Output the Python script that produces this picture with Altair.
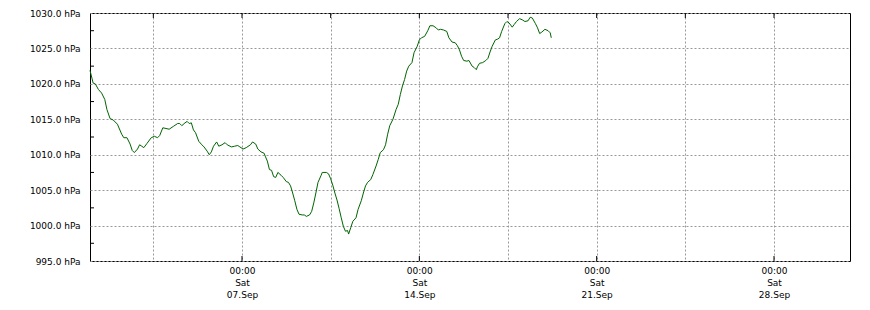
import altair as alt
import pandas as pd

# hours since 2024-09-01 00:00 and air pressure (hPa)
hours = [0, 3, 5, 8, 11, 14, 16, 19, 22, 26, 30, 32, 35, 38, 40, 42, 45, 47, 49, 51,
         54, 58, 61, 64, 66, 69, 72, 75, 79, 83, 85, 87, 90, 92, 94, 96, 98, 100, 103, 106,
         108, 111, 113, 115, 117, 120, 122, 125, 128, 130, 134, 137, 140, 142, 145, 148, 152, 154, 157, 159,
         162, 165, 166, 168, 170, 172, 174, 176, 178, 181, 183, 186, 188, 190, 192, 194, 196, 198, 201, 203,
         205, 208, 210, 212, 214, 216, 219, 220, 224, 226, 228, 230, 232, 234, 236, 238, 240, 242, 244, 245,
         247, 249, 252, 254, 257, 259, 261, 263, 266, 268, 271, 273, 275, 278, 280, 282, 284, 287, 290, 292,
         294, 296, 298, 300, 302, 305, 307, 310, 312, 314, 317, 320, 322, 325, 328, 330, 332, 335, 338, 340,
         343, 346, 348, 350, 352, 354, 357, 359, 362, 364, 366, 367, 369, 372, 375, 377, 379, 381, 384, 386,
         388, 390, 393, 395, 397, 400, 402, 404, 407, 410, 412, 415, 417, 419, 422, 424, 426, 428, 431, 434,
         436, 437]
pressure = [1021.9, 1020.1, 1020.0, 1019.2, 1018.7, 1017.8, 1016.4, 1015.1, 1014.9, 1014.3,
            1012.9, 1012.4, 1012.4, 1011.5, 1010.6, 1010.3, 1010.8, 1011.4, 1011.2, 1011.0,
            1011.6, 1012.4, 1012.6, 1012.4, 1012.7, 1013.8, 1013.7, 1013.6, 1014.0, 1014.4,
            1014.4, 1014.1, 1014.5, 1014.7, 1014.4, 1014.5, 1013.5, 1013.1, 1011.9, 1011.4,
            1011.1, 1010.5, 1010.0, 1010.4, 1011.2, 1011.8, 1011.2, 1011.4, 1011.7, 1011.4,
            1011.1, 1011.2, 1011.3, 1011.1, 1010.8, 1011.0, 1011.4, 1011.8, 1011.5, 1010.8,
            1010.4, 1010.2, 1009.8, 1009.1, 1007.9, 1007.8, 1006.9, 1006.8, 1007.5, 1007.1,
            1006.8, 1006.2, 1006.1, 1005.6, 1004.6, 1003.5, 1002.3, 1001.6, 1001.5, 1001.5,
            1001.3, 1001.5, 1002.0, 1003.2, 1004.6, 1006.1, 1007.1, 1007.5, 1007.5, 1007.3,
            1006.6, 1005.7, 1004.6, 1003.6, 1002.4, 1001.1, 999.9, 999.2, 999.3, 998.8,
            999.7, 1000.6, 1001.1, 1002.3, 1003.5, 1004.6, 1005.6, 1006.1, 1006.5, 1007.2,
            1008.4, 1009.3, 1010.3, 1010.7, 1011.4, 1012.9, 1014.1, 1015.0, 1016.4, 1017.1,
            1018.5, 1019.7, 1020.6, 1021.8, 1022.5, 1023.0, 1024.4, 1025.3, 1026.2, 1026.5,
            1026.7, 1027.5, 1028.2, 1028.2, 1027.9, 1027.6, 1027.7, 1027.6, 1027.4, 1026.5,
            1025.9, 1025.8, 1025.4, 1024.8, 1023.9, 1023.3, 1023.2, 1023.3, 1022.5, 1022.3,
            1022.0, 1022.4, 1022.9, 1023.0, 1023.3, 1023.6, 1024.5, 1025.3, 1026.2, 1026.3,
            1026.5, 1027.4, 1028.5, 1028.8, 1028.6, 1028.0, 1028.4, 1028.8, 1029.2, 1029.0,
            1028.8, 1028.9, 1029.4, 1029.3, 1028.5, 1027.9, 1027.1, 1027.3, 1027.7, 1027.5,
            1027.2, 1026.5]

y_ticks = [995, 1000, 1005, 1010, 1015, 1020, 1025, 1030]
y_minor = [997.5, 1002.5, 1007.5, 1012.5, 1017.5, 1022.5, 1027.5]
grid_times = ["2024-09-03T12:00", "2024-09-07T00:00", "2024-09-10T12:00", "2024-09-14T00:00",
              "2024-09-17T12:00", "2024-09-21T00:00", "2024-09-24T12:00", "2024-09-28T00:00"]
label_times = ["2024-09-07T00:00", "2024-09-14T00:00", "2024-09-21T00:00", "2024-09-28T00:00"]

start = pd.Timestamp("2024-09-01 00:00")
df = pd.DataFrame({
    "time": [(start + pd.Timedelta(hours=h)).strftime("%Y-%m-%dT%H:%M") for h in hours],
    "pressure": pressure,
})

def dt(s):
    t = pd.Timestamp(s)
    return alt.DateTime(year=t.year, month=t.month, date=t.day, hours=t.hour, minutes=t.minute)

x_domain = [alt.DateTime(year=2024, month=9, date=1), alt.DateTime(year=2024, month=10, date=1)]
x_scale = alt.Scale(domain=x_domain)
y_scale = alt.Scale(domain=[995, 1030], nice=False, zero=False)
FONT = "DejaVu Sans"

x_axis = alt.Axis(
    values=[dt(s) for s in grid_times], grid=True, gridColor="#999999", gridDash=[2, 2],
    ticks=False, domain=False, labelFont=FONT, labelFontSize=9, labelColor="#000000",
    labelPadding=5, labelBaseline="top", labelLineHeight=12, labelAlign="center",
    labelOverlap=False, labelFlush=False, title=None,
    labelExpr="hours(datum.value) == 0 ? [timeFormat(datum.value, '%H:%M'), timeFormat(datum.value, '%a'), timeFormat(datum.value, '%d.%b')] : ''")
y_axis = alt.Axis(
    values=y_ticks, grid=True, gridColor="#999999", gridDash=[2, 2], ticks=False,
    domain=False, labelFont=FONT, labelFontSize=9, labelColor="#000000", labelPadding=10,
    labelFlush=False, title=None, labelExpr="format(datum.value, '.1f') + ' hPa'")

line = alt.Chart(df).mark_line(color="#006400", strokeWidth=1).encode(
    x=alt.X("time:T", scale=x_scale, title=None, axis=x_axis),
    y=alt.Y("pressure:Q", scale=y_scale, title=None, axis=y_axis),
)

top_ticks = alt.Chart(pd.DataFrame({"t": grid_times})).mark_rule(color="black", strokeWidth=1).encode(
    x=alt.X("t:T", scale=x_scale, title=None, axis=x_axis), y=alt.value(0), y2=alt.value(5))
bottom_ticks = alt.Chart(pd.DataFrame({"t": label_times})).mark_rule(color="black", strokeWidth=1).encode(
    x=alt.X("t:T", scale=x_scale, title=None, axis=x_axis), y=alt.value(248), y2=alt.value(243))
minor_ticks = alt.Chart(pd.DataFrame({"v": y_minor})).mark_rule(color="black", strokeWidth=1).encode(
    y=alt.Y("v:Q", scale=y_scale, title=None, axis=y_axis), x=alt.value(0), x2=alt.value(4))

chart = alt.layer(line, top_ticks, bottom_ticks, minor_ticks).properties(
    width=760, height=248,
    padding={"left": 90, "top": 13, "right": 20, "bottom": 49},
    autosize=alt.AutoSizeParams(type="none"),
    background="white",
).configure_view(stroke="black", strokeWidth=1)

chart.save("out.html", embed_options={"renderer": "svg", "actions": False})
